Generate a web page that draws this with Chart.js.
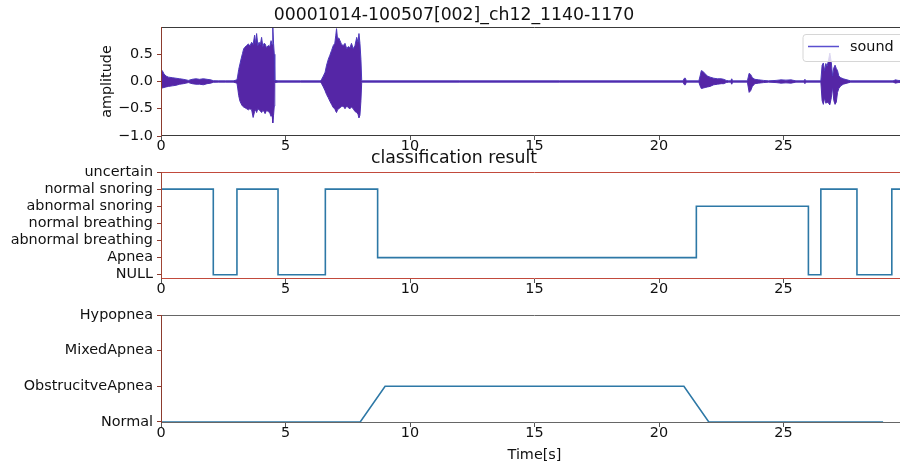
<!DOCTYPE html>
<html>
<head>
<meta charset="utf-8">
<title>00001014-100507[002]_ch12_1140-1170</title>
<script src="https://cdn.jsdelivr.net/npm/chart.js@4.4.1/dist/chart.umd.min.js"></script>
<style>
  html, body { margin: 0; padding: 0; background: #fff; overflow: hidden; }
  #figure { position: relative; width: 920px; height: 465px; }
  #figure canvas { position: absolute; left: 0; }
</style>
</head>
<body>
<div id="figure">
  <canvas id="soundChart" width="920" height="160" style="top:0px"></canvas>
  <canvas id="classChart" width="920" height="160" style="top:145px"></canvas>
  <canvas id="apneaChart" width="920" height="175" style="top:290px"></canvas>
</div>
<script>
// Sound envelope: time [s], upper and lower amplitude
const waveTime = [
  0, 0.05, 0.12, 0.2, 0.3, 0.45, 0.6, 0.75, 0.9, 1.0, 1.1, 1.25, 1.4, 1.55, 1.7, 1.85, 2.0, 2.1, 2.3, 2.6, 2.9, 3.05,
  3.08, 3.12, 3.17, 3.22, 3.27, 3.32, 3.37, 3.44, 3.51, 3.57, 3.64, 3.70, 3.76, 3.80, 3.84, 3.89, 3.94, 3.99, 4.04, 4.09, 4.14, 4.18, 4.24, 4.31, 4.37, 4.42, 4.46, 4.49, 4.52, 4.55, 4.57,
  4.7, 5.6, 6.4,
  6.45, 6.52, 6.59, 6.65, 6.72, 6.78, 6.85, 6.92, 6.98, 7.02, 7.05, 7.09, 7.14, 7.19, 7.25, 7.32, 7.39, 7.46, 7.52, 7.59, 7.65, 7.72, 7.79, 7.86, 7.91, 7.95, 7.99, 8.03, 8.06,
  8.1, 12, 16, 20.96,
  21.02, 21.06, 21.1,
  21.6, 21.65, 21.7, 21.78, 21.85, 21.95, 22.05, 22.2, 22.35, 22.5, 22.6, 22.7, 22.8,
  22.88, 22.92, 22.96,
  23.55, 23.62, 23.68, 23.75, 23.85, 24.0, 24.2, 24.4,
  24.7, 24.9, 25.1, 25.3, 25.5,
  25.82, 25.86, 25.9,
  26.5, 26.55, 26.6, 26.65, 26.7, 26.75, 26.8, 26.86, 26.92, 26.97, 27.02, 27.07, 27.12, 27.17, 27.22, 27.3, 27.4, 27.55, 27.7,
  29.4, 29.5, 29.6, 30
];
const waveUpper = [
  0.22, 0.2, 0.14, 0.1, 0.08, 0.07, 0.06, 0.05, 0.04, 0.03, 0.02, 0.04, 0.05, 0.04, 0.05, 0.04, 0.03, 0.015, 0.012, 0.012, 0.012, 0.03,
  0.1, 0.22, 0.32, 0.42, 0.51, 0.6, 0.63, 0.66, 0.69, 0.65, 0.72, 0.68, 0.85, 0.7, 0.88, 0.66, 0.72, 0.68, 0.81, 0.64, 0.7, 0.69, 0.62, 0.66, 0.64, 0.75, 0.68, 1.0, 0.7, 0.5, 0.02,
  0.012, 0.012, 0.012,
  0.04, 0.1, 0.17, 0.3, 0.41, 0.48, 0.57, 0.66, 0.7, 0.85, 0.97, 0.78, 0.8, 0.75, 0.68, 0.66, 0.7, 0.6, 0.64, 0.62, 0.7, 0.6, 0.66, 0.81, 0.72, 0.88, 0.7, 0.4, 0.02,
  0.012, 0.012, 0.012, 0.012,
  0.06, 0.06, 0.012,
  0.012, 0.1, 0.2, 0.18, 0.14, 0.1, 0.08, 0.06, 0.05, 0.05, 0.04, 0.02, 0.012,
  0.012, 0.05, 0.012,
  0.012, 0.15, 0.13, 0.07, 0.04, 0.03, 0.02, 0.012,
  0.02, 0.03, 0.025, 0.03, 0.012,
  0.012, 0.04, 0.012,
  0.012, 0.3, 0.34, 0.2, 0.33, 0.28, 0.37, 0.52, 0.35, 0.1, 0.25, 0.3, 0.24, 0.2, 0.1, 0.07, 0.05, 0.03, 0.012,
  0.012, 0.03, 0.02, 0.012
];
const waveLower = [
  -0.13, -0.12, -0.11, -0.1, -0.09, -0.08, -0.07, -0.05, -0.04, -0.03, -0.02, -0.04, -0.05, -0.05, -0.06, -0.04, -0.03, -0.015, -0.012, -0.012, -0.012, -0.03,
  -0.12, -0.26, -0.36, -0.41, -0.45, -0.47, -0.48, -0.5, -0.52, -0.5, -0.52, -0.66, -0.55, -0.52, -0.57, -0.5, -0.52, -0.54, -0.57, -0.53, -0.55, -0.59, -0.53, -0.55, -0.58, -0.64, -0.6, -0.76, -0.62, -0.45, -0.02,
  -0.012, -0.012, -0.012,
  -0.04, -0.1, -0.17, -0.24, -0.3, -0.36, -0.42, -0.48, -0.5, -0.55, -0.57, -0.52, -0.5, -0.48, -0.46, -0.45, -0.5, -0.45, -0.48, -0.5, -0.47, -0.5, -0.55, -0.57, -0.6, -0.67, -0.62, -0.35, -0.02,
  -0.012, -0.012, -0.012, -0.012,
  -0.06, -0.06, -0.012,
  -0.012, -0.08, -0.13, -0.12, -0.11, -0.1, -0.09, -0.06, -0.05, -0.04, -0.04, -0.02, -0.012,
  -0.012, -0.05, -0.012,
  -0.012, -0.2, -0.17, -0.09, -0.04, -0.03, -0.02, -0.012,
  -0.02, -0.03, -0.025, -0.03, -0.012,
  -0.012, -0.04, -0.012,
  -0.012, -0.35, -0.42, -0.3, -0.4, -0.38, -0.39, -0.43, -0.3, -0.1, -0.35, -0.42, -0.38, -0.2, -0.13, -0.08, -0.05, -0.03, -0.012,
  -0.012, -0.03, -0.02, -0.012
];
const ampTicks = [-1, -0.5, 0, 0.5];
const ampTickLabels = ['\u22121.0', '\u22120.5', '0.0', '0.5'];

// Classification result: each value holds from its time until the next one
const classLabels = ['NULL', 'Apnea', 'abnormal breathing', 'normal breathing', 'abnormal snoring', 'normal snoring', 'uncertain'];
const classTime  = [0, 2.1, 3.05, 4.7, 6.6, 8.7, 21.5, 26.0, 26.5, 27.95, 29.35, 30];
const classValue = [5, 0, 5, 0, 5, 1, 4, 0, 5, 0, 5, 5];

// Apnea type, one value per second
const apneaLabels = ['Normal', 'ObstrucitveApnea', 'MixedApnea', 'Hypopnea'];
const apneaTime  = [0, 1, 2, 3, 4, 5, 6, 7, 8, 9, 10, 11, 12, 13, 14, 15, 16, 17, 18, 19, 20, 21, 22, 23, 24, 25, 26, 27, 28, 29];
const apneaValue = [0, 0, 0, 0, 0, 0, 0, 0, 0, 1, 1, 1, 1, 1, 1, 1, 1, 1, 1, 1, 1, 1, 0, 0, 0, 0, 0, 0, 0, 0];

const timeTicks = [0, 5, 10, 15, 20, 25];

Chart.defaults.font.family = "'DejaVu Sans', sans-serif";
Chart.defaults.color = '#111';

const tickFont = { size: 14.4, lineHeight: 0.9 };
const axisLeft = 161;
const lineBlue = '#2d78a6';

// draws the four spines, each side with its own colour
const framePlugin = {
  id: 'frame',
  afterDatasetsDraw(chart, args, opts) {
    const { ctx, chartArea: a } = chart;
    ctx.save();
    ctx.lineWidth = 1;
    const side = (color, x1, y1, x2, y2) => {
      ctx.strokeStyle = color;
      ctx.beginPath();
      ctx.moveTo(x1, y1);
      ctx.lineTo(x2, y2);
      ctx.stroke();
    };
    side(opts.top, a.left, a.top + 0.5, a.right, a.top + 0.5);
    side(opts.bottom, a.left, a.bottom - 0.5, a.right, a.bottom - 0.5);
    side(opts.right, a.right - 0.5, a.top, a.right - 0.5, a.bottom);
    side(opts.left, a.left + 0.5, a.top, a.left + 0.5, a.bottom);
    ctx.restore();
  }
};

// small legend box in the upper right corner of the sound plot
const soundLegend = {
  id: 'soundLegend',
  afterDraw(chart) {
    const { ctx, chartArea: a } = chart;
    const x = a.right - 105, y = a.top + 7.5;
    ctx.save();
    ctx.fillStyle = 'rgba(255,255,255,0.8)';
    ctx.strokeStyle = '#d6d6d6';
    ctx.lineWidth = 1;
    ctx.beginPath();
    ctx.roundRect(x, y, 102, 27, 3);
    ctx.fill();
    ctx.stroke();
    ctx.strokeStyle = '#5a4fcf';
    ctx.lineWidth = 1.5;
    ctx.beginPath();
    ctx.moveTo(x + 5, y + 12);
    ctx.lineTo(x + 36, y + 12);
    ctx.stroke();
    ctx.fillStyle = '#111';
    ctx.font = "14.4px 'DejaVu Sans'";
    ctx.textBaseline = 'middle';
    ctx.fillText('sound', x + 47, y + 12.5);
    ctx.restore();
  }
};

function timeAxis(height, title) {
  return {
    type: 'linear',
    min: 0,
    max: 30,
    afterBuildTicks: s => { s.ticks = timeTicks.map(v => ({ value: v })); },
    afterFit: s => { s.height = height; },
    grid: { drawOnChartArea: false, drawTicks: true, tickLength: 4, tickColor: '#555' },
    border: { display: false },
    ticks: { font: tickFont, padding: 0, maxRotation: 0, autoSkip: false, color: '#111' },
    title: title ? { display: true, text: title, font: { size: 14.4, lineHeight: 1.2 }, padding: { top: 0, bottom: 1.4 }, color: '#111' } : { display: false }
  };
}

function categoryAxis(min, max, labels) {
  return {
    type: 'linear',
    min: min,
    max: max,
    afterBuildTicks: s => { s.ticks = labels.map((_, i) => ({ value: i })); },
    afterFit: s => { s.width = axisLeft; },
    grid: { drawOnChartArea: false, drawTicks: true, tickLength: 4, tickColor: '#8c3b2e' },
    border: { display: false },
    ticks: { font: { size: 14.4 }, padding: 4, autoSkip: false, color: '#111', callback: v => labels[v] }
  };
}

// Sound waveform
new Chart(document.getElementById('soundChart'), {
  type: 'line',
  data: {
    datasets: [{
      label: 'sound',
      data: waveTime.map((t, i) => ({ x: t, y: waveUpper[i] })),
      borderColor: '#4d38bb',
      borderWidth: 1,
      backgroundColor: '#5526a6',
      fill: '+1',
      pointRadius: 0
    }, {
      label: 'sound lower',
      data: waveTime.map((t, i) => ({ x: t, y: waveLower[i] })),
      borderColor: '#4d38bb',
      borderWidth: 1,
      fill: false,
      pointRadius: 0
    }]
  },
  options: {
    responsive: false,
    animation: false,
    layout: { padding: { top: 5.4, right: 12, left: 0, bottom: 0 } },
    plugins: {
      legend: { display: false },
      tooltip: { enabled: false },
      title: { display: true, text: '00001014-100507[002]_ch12_1140-1170', font: { size: 17.3, weight: 'normal', lineHeight: 1.2 }, padding: { top: 0, bottom: 0.84 }, color: '#111' },
      frame: { top: '#3a3a3a', bottom: '#3a3a3a', right: '#3a3a3a', left: '#8c3b2e' }
    },
    scales: {
      x: timeAxis(24),
      y: {
        type: 'linear',
        min: -1,
        max: 1,
        afterBuildTicks: s => { s.ticks = ampTicks.map(v => ({ value: v })); },
        afterFit: s => { s.width = axisLeft; },
        grid: { drawOnChartArea: false, drawTicks: true, tickLength: 4, tickColor: '#8c3b2e' },
        border: { display: false },
        ticks: { font: { size: 14.4 }, padding: 4, autoSkip: false, color: '#111', callback: v => ampTickLabels[ampTicks.indexOf(v)] },
        title: { display: true, text: 'amplitude', font: { size: 14.4, lineHeight: 1.2 }, padding: { top: 98.4, bottom: 0 }, color: '#111' }
      }
    }
  },
  plugins: [framePlugin, soundLegend]
});

// Classification result (step line)
new Chart(document.getElementById('classChart'), {
  type: 'line',
  data: {
    datasets: [{
      label: 'classification',
      data: classTime.map((t, i) => ({ x: t, y: classValue[i] })),
      stepped: 'before',
      borderColor: lineBlue,
      borderWidth: 1.6,
      fill: false,
      pointRadius: 0
    }]
  },
  options: {
    responsive: false,
    animation: false,
    layout: { padding: { top: 3.6, right: 12, left: 0, bottom: 0 } },
    plugins: {
      legend: { display: false },
      tooltip: { enabled: false },
      title: { display: true, text: 'classification result', font: { size: 17.3, weight: 'normal', lineHeight: 1.2 }, padding: { top: 0, bottom: 2.64 }, color: '#111' },
      frame: { top: '#c24a3c', bottom: '#c24a3c', right: '#c24a3c', left: '#a04535' }
    },
    scales: {
      x: timeAxis(26),
      y: categoryAxis(-0.25, 6, classLabels)
    }
  },
  plugins: [framePlugin]
});

// Apnea type over time
new Chart(document.getElementById('apneaChart'), {
  type: 'line',
  data: {
    datasets: [{
      label: 'apnea',
      data: apneaTime.map((t, i) => ({ x: t, y: apneaValue[i] })),
      borderColor: lineBlue,
      borderWidth: 1.6,
      fill: false,
      pointRadius: 0
    }]
  },
  options: {
    responsive: false,
    animation: false,
    layout: { padding: { top: 25, right: 12, left: 0, bottom: 0 } },
    plugins: {
      legend: { display: false },
      tooltip: { enabled: false },
      frame: { top: '#666', bottom: '#666', right: '#666', left: '#8c3b2e' }
    },
    scales: {
      x: timeAxis(42, 'Time[s]'),
      y: categoryAxis(-0.03, 3, apneaLabels)
    }
  },
  plugins: [framePlugin]
});
</script>
</body>
</html>
